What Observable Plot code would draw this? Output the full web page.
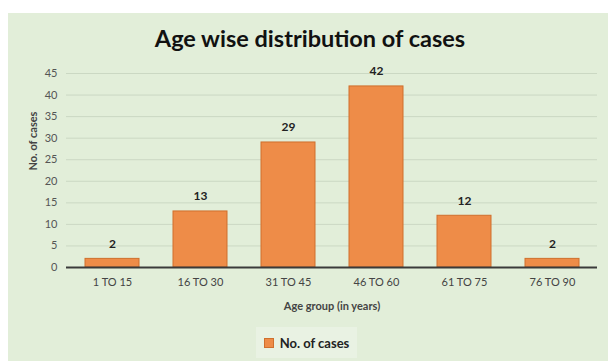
<!DOCTYPE html>
<html>
<head>
<meta charset="utf-8">
<script src="https://cdn.jsdelivr.net/npm/d3@7"></script>
<script src="https://cdn.jsdelivr.net/npm/@observablehq/plot@0.6"></script>
<style>
  html, body { margin: 0; padding: 0; background: #ffffff; }
  #wrap { position: relative; width: 608px; height: 361px; overflow: hidden; font-family: Lato, "Open Sans", sans-serif; }
  #panel { position: absolute; left: 8px; top: 13px; width: 600px; height: 348px; background: #e2eed9; }
  #title { position: absolute; left: 0; width: 620px; top: 24px; text-align: center; font-size: 23.5px; font-weight: 700; color: #111; }
  #chart { position: absolute; left: 0; top: 0; }
  #legend { position: absolute; left: 256px; top: 327px; width: 101px; height: 31px; background: #e9f2e3; display: flex; align-items: center; justify-content: center; gap: 6px; font-size: 13px; font-weight: 700; color: #222; }
  #legend .sw { width: 10px; height: 10px; background: #ee8c48; border: 1px solid #d0702e; box-sizing: border-box; }
</style>
</head>
<body>
<div id="wrap">
  <div id="panel"></div>
  <div id="title">Age wise distribution of cases</div>
  <div id="chart"></div>
  <div id="legend"><span class="sw"></span><span>No. of cases</span></div>
</div>
<script>
// Age groups and number of cases in each
const ageGroups = ["1 TO 15", "16 TO 30", "31 TO 45", "46 TO 60", "61 TO 75", "76 TO 90"];
const cases = [2, 13, 29, 42, 12, 2];
const yTicks = [0, 5, 10, 15, 20, 25, 30, 35, 40, 45];

const data = ageGroups.map((g, i) => ({group: g, cases: cases[i]}));

const chart = Plot.plot({
  width: 608,
  height: 361,
  marginTop: 73,
  marginBottom: 94,
  marginLeft: 66,
  marginRight: 11,
  style: {background: "transparent", fontFamily: "Lato, 'Open Sans', sans-serif"},
  x: {domain: ageGroups, paddingInner: 0.39, paddingOuter: 0.195, label: null},
  y: {domain: [0, 45], label: null},
  marks: [
    Plot.gridY(yTicks, {stroke: "#cbd8c3", strokeOpacity: 1, strokeWidth: 1}),
    Plot.axisY(yTicks, {tickSize: 0, tickPadding: 9, fontSize: 11, fill: "#555", label: null}),
    Plot.axisX({tickSize: 0, tickPadding: 11, fontSize: 11, fill: "#444", label: null}),
    Plot.text(["No. of cases"], {frameAnchor: "left", dx: -33, rotate: -90, fontSize: 11, fontWeight: 700, fill: "#444"}),
    Plot.text(["Age group (in years)"], {frameAnchor: "bottom", dy: 42, fontSize: 11, fontWeight: 700, fill: "#444"}),
    Plot.barY(data, {x: "group", y: "cases", fill: "#ee8c48", stroke: "#cf6f2d", strokeWidth: 1}),
    Plot.text(data, {x: "group", y: "cases", text: d => String(d.cases), dy: -15, fontSize: 12, fontWeight: 700, fill: "#222"}),
    Plot.ruleY([0], {stroke: "#3a3a3a", strokeWidth: 2})
  ]
});
document.getElementById("chart").appendChild(chart);
</script>
</body>
</html>
